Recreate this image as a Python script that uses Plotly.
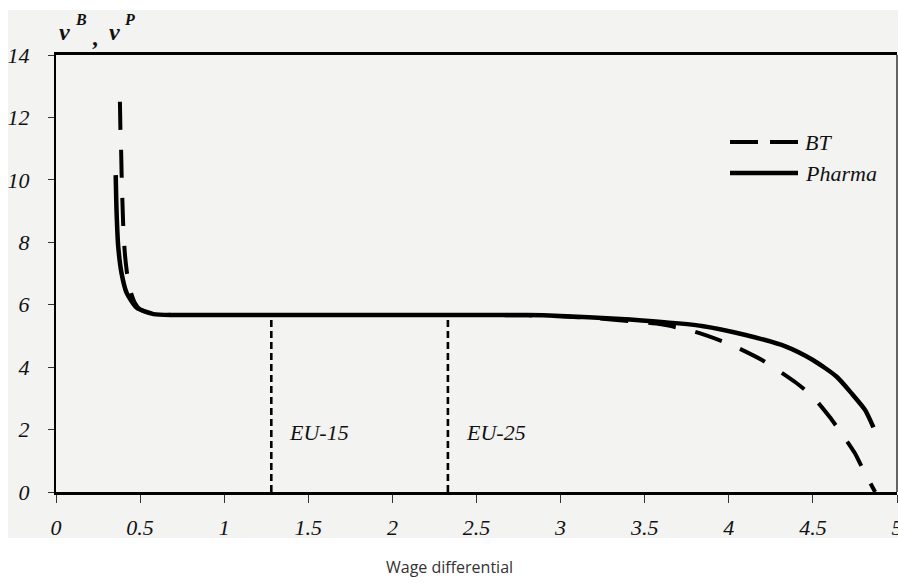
import plotly.graph_objects as go

# ---- data ----
bt_x = [0.380, 0.383, 0.387, 0.390, 0.395, 0.400, 0.410, 0.425, 0.445, 0.470, 0.50, 0.55, 0.60, 0.70,
        1.0, 2.0, 2.8, 3.0, 3.2, 3.4, 3.6, 3.8, 4.0, 4.2, 4.4, 4.5, 4.6, 4.7, 4.75, 4.8, 4.87]
bt_y = [12.5, 11.6, 11.0, 10.2, 9.3, 8.5, 7.6, 6.9, 6.4, 6.05, 5.85, 5.74, 5.70, 5.67,
        5.67, 5.67, 5.66, 5.63, 5.57, 5.48, 5.37, 5.13, 4.75, 4.22, 3.50, 3.05, 2.40, 1.65, 1.24, 0.70, 0.0]

ph_x = [0.355, 0.360, 0.370, 0.390, 0.420, 0.480, 0.580, 0.70, 1.0, 2.0, 2.8, 3.0, 3.33, 3.6,
        3.84, 4.10, 4.34, 4.50, 4.64, 4.73, 4.81, 4.86]
ph_y = [10.15, 9.0, 7.86, 7.0, 6.38, 5.90, 5.70, 5.67, 5.67, 5.67, 5.67, 5.64, 5.55, 5.45,
        5.32, 5.03, 4.66, 4.23, 3.70, 3.16, 2.63, 2.07]

eu_x = [1.28, 2.33]
eu_top = [5.67, 5.67]
eu_labels = ["EU-15", "EU-25"]

x_ticks = [0, 0.5, 1, 1.5, 2, 2.5, 3, 3.5, 4, 4.5, 5]
x_ticktext = ["0", "0.5", "1", "1.5", "2", "2.5", "3", "3.5", "4", "4.5", "5"]
y_ticks = [0, 2, 4, 6, 8, 10, 12, 14]

series_names = ["BT", "Pharma"]

# ---- figure ----
W, H = 898, 583
ML, MR, MT, MB = 56, 1, 55, 91
pw, ph = W - ML - MR, H - MT - MB

BG = "#f3f3f1"
SERIF = "Liberation Serif"

fig = go.Figure()

for xv, yt in zip(eu_x, eu_top):
    fig.add_trace(go.Scatter(x=[xv, xv], y=[0, yt], mode="lines",
                             line=dict(color="black", width=2.6, dash="7px,4px"),
                             showlegend=False, hoverinfo="skip"))

fig.add_trace(go.Scatter(x=ph_x, y=ph_y, mode="lines", name=series_names[1],
                         line=dict(color="black", width=4.5, shape="spline", smoothing=0.6),
                         showlegend=False))
fig.add_trace(go.Scatter(x=bt_x, y=bt_y, mode="lines", name=series_names[0],
                         line=dict(color="black", width=4, dash="28px,20px", shape="spline", smoothing=0.6),
                         showlegend=False))

def px2x(p):
    return (p - ML) / pw

def py2y(p):
    return 1 - (p - MT) / ph

shapes = [
    dict(type="rect", xref="paper", yref="paper", x0=px2x(8), x1=px2x(898), y0=py2y(538), y1=py2y(10),
         fillcolor=BG, line=dict(width=0), layer="below"),
    dict(type="line", xref="paper", yref="paper", x0=1, x1=1, y0=0, y1=1,
         line=dict(color="#333333", width=1.5)),
    dict(type="line", xref="paper", yref="paper", x0=px2x(730), x1=px2x(798), y0=py2y(142), y1=py2y(142),
         line=dict(color="black", width=4, dash="28px,12px")),
    dict(type="line", xref="paper", yref="paper", x0=px2x(730), x1=px2x(798), y0=py2y(173), y1=py2y(173),
         line=dict(color="black", width=4.5)),
]

ann = []
for name, yp in zip(series_names, [142, 173]):
    ann.append(dict(xref="paper", yref="paper", x=px2x(803), y=py2y(yp), text=name, showarrow=False,
                    xanchor="left", yanchor="middle",
                    font=dict(family=SERIF, size=22, style="italic", color="#111")))
for xv, lab in zip(eu_x, eu_labels):
    ann.append(dict(x=xv + 0.095, y=1.92, text=lab, showarrow=False, xanchor="left", yanchor="middle",
                    font=dict(family=SERIF, size=22, style="italic", color="#111")))
pieces = [("v", 64, 32, 24), ("B", 81, 19, 16), (",", 95, 37, 24), ("v", 114, 32, 24), ("P", 129, 19, 16)]
for t, xp, yp, fs in pieces:
    ann.append(dict(xref="paper", yref="paper", x=px2x(xp), y=py2y(yp), text="<b>" + t + "</b>",
                    showarrow=False, xanchor="center", yanchor="middle",
                    font=dict(family=SERIF, size=fs, style="italic", color="#111")))
ann.append(dict(xref="paper", yref="paper", x=px2x(449), y=py2y(567), text="Wage differential",
                showarrow=False, xanchor="center", yanchor="middle",
                font=dict(family="Open Sans", size=16, color="#333")))

fig.update_layout(
    width=W, height=H,
    margin=dict(l=ML, r=MR, t=MT, b=MB, pad=0, autoexpand=False),
    paper_bgcolor="white", plot_bgcolor=BG,
    shapes=shapes, annotations=ann, showlegend=False,
    xaxis=dict(range=[0, 5], tickvals=x_ticks, ticktext=x_ticktext, showgrid=False, zeroline=False,
               showline=True, linecolor="black", linewidth=2.5, mirror=True, automargin=False,
               ticks="outside", ticklen=8, tickwidth=1, tickcolor="#333", ticklabelstandoff=6,
               ticklabeloverflow="allow",
               tickfont=dict(family=SERIF, size=22, style="italic", color="#111")),
    yaxis=dict(range=[0, 14], tickvals=y_ticks, showgrid=False, zeroline=False,
               showline=True, linecolor="black", linewidth=2.2, automargin=False,
               ticks="outside", ticklen=6, tickwidth=1, tickcolor="#333", ticklabelstandoff=14,
               ticklabeloverflow="allow",
               tickfont=dict(family=SERIF, size=22, style="italic", color="#111")),
)

fig.write_html("out.html", config={"displayModeBar": False},
               post_script="document.body.style.margin='0';document.body.style.overflow='hidden';")
